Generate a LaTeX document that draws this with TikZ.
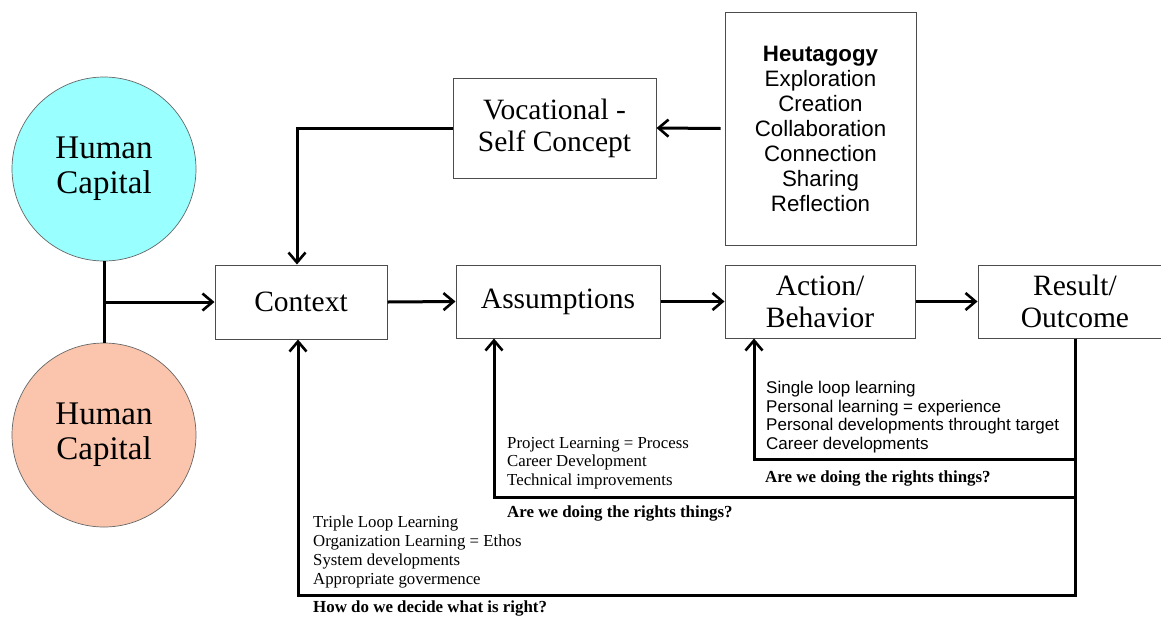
\documentclass[tikz,border=0pt]{standalone}
\usepackage{fontspec}
\setmainfont{Liberation Serif}
\setsansfont{Liberation Sans}
\usetikzlibrary{arrows.meta}

\definecolor{hccyan}{RGB}{153,255,255}
\definecolor{hcpeach}{RGB}{250,197,172}

\begin{document}
\begin{tikzpicture}[x=1pt,y=-1pt,
    box/.style={draw=black!70,line width=1pt,fill=white,inner sep=0pt,align=center,
      font=\fontsize{29.5}{32}\selectfont},
    hc/.style={circle,draw=black!60,line width=0.7pt,minimum size=184pt,inner sep=0pt,
      align=center,font=\fontsize{33}{35}\selectfont},
    arr/.style={line width=3pt,-{Straight Barb[length=10pt,width=17pt,line width=2.6pt]}},
    conn/.style={line width=3pt},
    notes/.style={anchor=north west,inner sep=0pt,align=left},
    quest/.style={anchor=base west,inner sep=0pt,font=\fontsize{16.9}{19}\selectfont\bfseries}]
  \clip (0,0) rectangle (1161,619);

  % human capital
  \node[hc,fill=hccyan] (hc1) at (104,169) {Human\\Capital};
  \node[hc,fill=hcpeach] (hc2) at (104,435) {Human\\Capital};

  % boxes
  \node[box,minimum width=172pt,minimum height=74pt] (ctx) at (301,302) {Context};
  \node[box,minimum width=204pt,minimum height=73pt] (asm) at (558,301.5) {Assumptions};
  \node[box,minimum width=190pt,minimum height=73pt] (act) at (820,301.5) {Action/\\Behavior};
  \node[box,minimum width=194pt,minimum height=73pt] (res) at (1075,301.5) {Result/\\Outcome};
  \node[box,minimum width=203pt,minimum height=100pt] (voc) at (554.5,128) {Vocational -\\Self Concept};
  \node[box,minimum width=191pt,minimum height=233pt,
    font=\sffamily\fontsize{22.3}{25}\selectfont] (heu) at (820.5,128.5)
    {\textbf{Heutagogy}\\Exploration\\Creation\\Collaboration\\Connection\\Sharing\\Reflection};

  % arrows
  \draw[conn] (hc1.south) -- (hc2.north);
  \draw[arr] (hc1.south |- ctx.west) -- (ctx.west);
  \draw[arr] (ctx.east) -- (asm.west);
  \draw[arr] (asm.east) -- (act.west);
  \draw[arr] (act.east) -- (res.west);
  \draw[arr] ([xshift=-4pt]heu.west) -- (voc.east);
  \draw[arr] (voc.west) -| ([xshift=-4pt]ctx.north);

  % feedback loops
  \draw[arr] (res.south) -- ++(0,121) -| ([xshift=-66pt]act.south);
  \draw[arr] (res.south) -- ++(0,159) -| ([xshift=-64pt]asm.south);
  \draw[arr] (res.south) -- ++(0,257) -| ([xshift=-3pt]ctx.south);

  % notes
  \node[notes,font=\sffamily\fontsize{17}{18.7}\selectfont] (n1) at (766,381)
    {Single loop learning\\Personal learning = experience\\Personal developments throught target\\Career developments};
  \node[quest] (q1) at (765,482) {Are we doing the rights things?};
  \node[notes,font=\fontsize{16.8}{18.5}\selectfont] (n2) at (507,437)
    {Project Learning = Process\\Career Development\\Technical improvements};
  \node[quest] (q2) at (507,517) {Are we doing the rights things?};
  \node[notes,font=\fontsize{16.8}{19}\selectfont] (n3) at (313,516)
    {Triple Loop Learning\\Organization Learning = Ethos\\System developments\\Appropriate govermence};
  \node[quest] (q3) at (313,612) {How do we decide what is right?};
\end{tikzpicture}
\end{document}
